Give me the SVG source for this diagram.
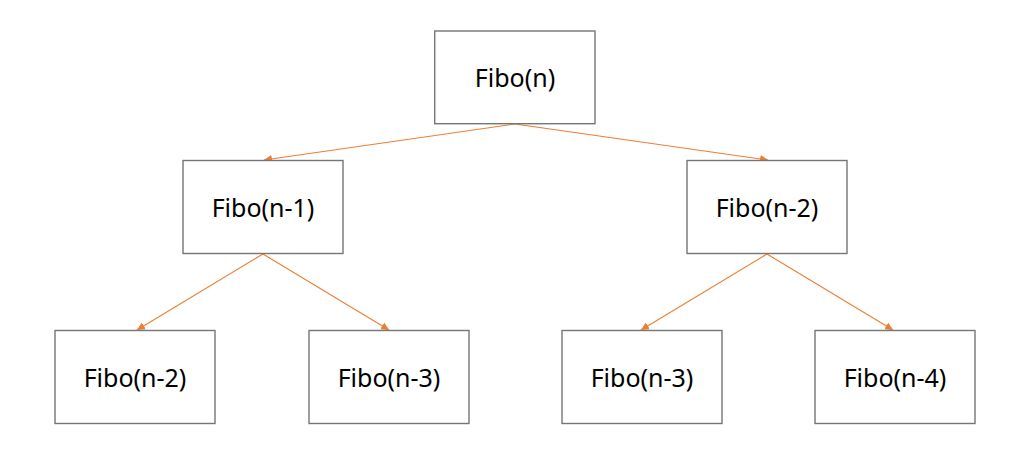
<svg xmlns="http://www.w3.org/2000/svg" width="1036" height="465" viewBox="0 0 1036 465">
<defs>
<style>
.box{fill:#ffffff;stroke:#767676;stroke-width:1.4}
.lbl{font-family:"Noto Sans","Open Sans","DejaVu Sans",sans-serif;font-size:25px;fill:#000;text-anchor:middle;dominant-baseline:central}
.edge{stroke:#ED7D31;stroke-width:1.1;fill:none;marker-end:url(#ah)}
</style>
<marker id="ah" viewBox="0 0 10 10" refX="10" refY="5" markerWidth="8" markerHeight="8" markerUnits="userSpaceOnUse" orient="auto">
<path d="M0,0 L10,5 L0,10 z" fill="#ED7D31"/>
</marker>
</defs>
<rect width="1036" height="465" fill="#ffffff"/>
<g id="connectors">
<line class="edge" x1="515" y1="124" x2="264" y2="160"/>
<line class="edge" x1="515" y1="124" x2="768" y2="160"/>
<line class="edge" x1="263" y1="254" x2="137" y2="330"/>
<line class="edge" x1="263" y1="254" x2="389" y2="330"/>
<line class="edge" x1="767" y1="254" x2="641" y2="330"/>
<line class="edge" x1="767" y1="254" x2="893" y2="330"/>
</g>
<g id="n0"><rect class="box" x="434.7" y="31" width="160.3" height="92.7"/><text class="lbl" x="515" y="77">Fibo(n)</text></g>
<g id="n1"><rect class="box" x="183" y="160.5" width="160" height="93"/><text class="lbl" x="263" y="207">Fibo(n-1)</text></g>
<g id="n2"><rect class="box" x="687" y="160.5" width="160" height="93"/><text class="lbl" x="767" y="207">Fibo(n-2)</text></g>
<g id="n3"><rect class="box" x="55" y="330.5" width="160" height="93"/><text class="lbl" x="135" y="377">Fibo(n-2)</text></g>
<g id="n4"><rect class="box" x="309" y="330.5" width="160" height="93"/><text class="lbl" x="389" y="377">Fibo(n-3)</text></g>
<g id="n5"><rect class="box" x="562" y="330.5" width="160" height="93"/><text class="lbl" x="642" y="377">Fibo(n-3)</text></g>
<g id="n6"><rect class="box" x="815" y="330.5" width="160" height="93"/><text class="lbl" x="895" y="377">Fibo(n-4)</text></g>
</svg>
